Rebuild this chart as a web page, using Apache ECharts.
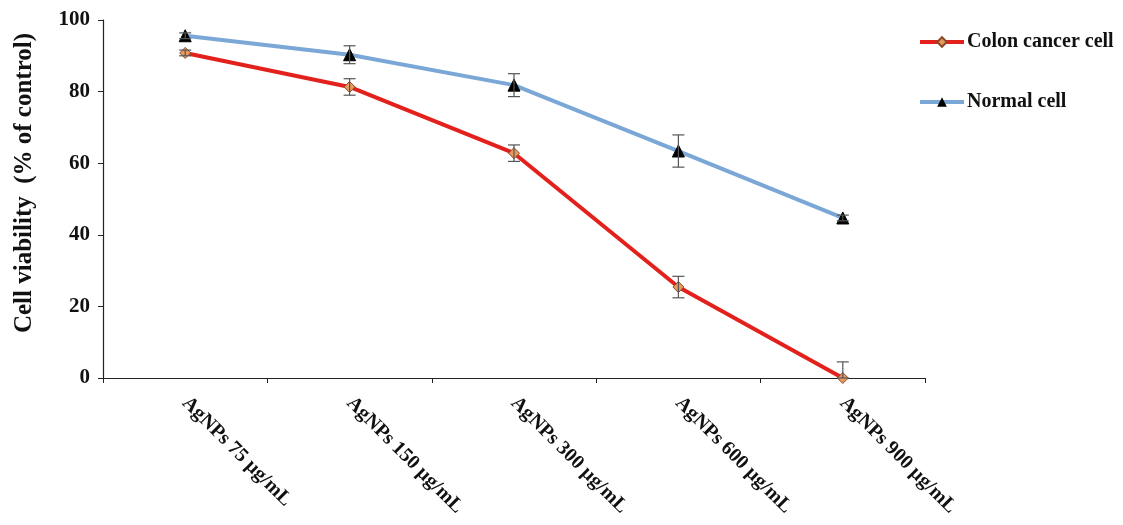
<!DOCTYPE html>
<html>
<head>
<meta charset="utf-8">
<script src="https://cdn.jsdelivr.net/npm/echarts@6/dist/echarts.min.js"></script>
<style>html,body{margin:0;padding:0;background:#fff;}#c{width:1123px;height:525px;}</style>
</head>
<body>
<div id="c"></div>
<script>
const categories = ['AgNPs 75 µg/mL','AgNPs 150 µg/mL','AgNPs 300 µg/mL','AgNPs 600 µg/mL','AgNPs 900 µg/mL'];
const colonValues = [90.8, 81.3, 62.8, 25.4, 0];
const colonErrors = [0.8, 2.3, 2.3, 3.0, 4.5];
const normalValues = [95.6, 90.3, 81.8, 63.4, 44.7];
const normalErrors = [0.8, 2.5, 3.2, 4.5, 0.8];
const yTicks = [0, 20, 40, 60, 80, 100];

const font = '"Liberation Serif", "Times New Roman", serif';
const chart = echarts.init(document.getElementById('c'));

function errData(vals, errs) {
  return vals.map((v, i) => [i, Math.max(0, v - errs[i]), v + errs[i]]);
}
function errRender(params, api) {
  const x = api.value(0);
  const lo = api.coord([x, api.value(1)]);
  const hi = api.coord([x, api.value(2)]);
  const w = 6;
  const style = { stroke: '#555', lineWidth: 1.2 };
  return {
    type: 'group',
    children: [
      { type: 'line', shape: { x1: lo[0], y1: lo[1], x2: hi[0], y2: hi[1] }, style },
      { type: 'line', shape: { x1: hi[0] - w, y1: hi[1], x2: hi[0] + w, y2: hi[1] }, style },
      { type: 'line', shape: { x1: lo[0] - w, y1: lo[1], x2: lo[0] + w, y2: lo[1] }, style }
    ]
  };
}

chart.setOption({
  animation: false,
  backgroundColor: '#fff',
  grid: { left: 103, right: 198, top: 20, bottom: 147, containLabel: false },
  legend: {
    orient: 'vertical',
    left: 913, top: 27,
    itemWidth: 44, itemHeight: 12, itemGap: 40,
    lineStyle: { width: 4 },
    textStyle: { fontFamily: font, fontWeight: 'bold', fontSize: 20, color: '#111', padding: [0, 0, 0, -2] },
    data: ['Colon cancer cell', 'Normal cell']
  },
  xAxis: {
    type: 'category',
    data: categories,
    boundaryGap: true,
    axisLine: { lineStyle: { color: '#222', width: 1.2 } },
    axisTick: { show: true, alignWithLabel: false, length: 5, lineStyle: { color: '#222' } },
    axisLabel: {
      rotate: -45, interval: 0, margin: 22,
      fontFamily: font, fontWeight: 'bold', fontSize: 20, color: '#111'
    },
    splitLine: { show: false }
  },
  yAxis: {
    type: 'value',
    min: yTicks[0], max: yTicks[yTicks.length - 1], interval: 20,
    name: 'Cell viability  (% of control)',
    nameLocation: 'middle', nameGap: 66,
    nameTextStyle: { fontFamily: font, fontWeight: 'bold', fontSize: 25, color: '#111', padding: [0, 0, 0, 32] },
    axisLine: { show: true, lineStyle: { color: '#222', width: 1.2 } },
    axisTick: { show: true, length: 5, lineStyle: { color: '#222' } },
    axisLabel: { margin: 13, fontFamily: font, fontWeight: 'bold', fontSize: 21, color: '#111' },
    splitLine: { show: false }
  },
  series: [
    {
      name: 'Normal cell', type: 'line', data: normalValues,
      lineStyle: { color: '#7ba7d7', width: 4 },
      itemStyle: { color: '#000', borderColor: '#000' },
      color: '#7ba7d7',
      symbol: 'triangle', symbolSize: 12, z: 3
    },
    {
      name: 'Colon cancer cell', type: 'line', data: colonValues,
      lineStyle: { color: '#e3211c', width: 4 },
      itemStyle: { color: '#e89a5e', borderColor: '#8a4a2a', borderWidth: 1 },
      color: '#e3211c',
      symbol: 'diamond', symbolSize: 11, z: 3
    },
    {
      type: 'custom', renderItem: errRender, data: errData(normalValues, normalErrors),
      encode: { x: 0, y: [1, 2] }, z: 4, silent: true
    },
    {
      type: 'custom', renderItem: errRender, data: errData(colonValues, colonErrors),
      encode: { x: 0, y: [1, 2] }, z: 4, silent: true
    }
  ]
});
</script>
</body>
</html>
